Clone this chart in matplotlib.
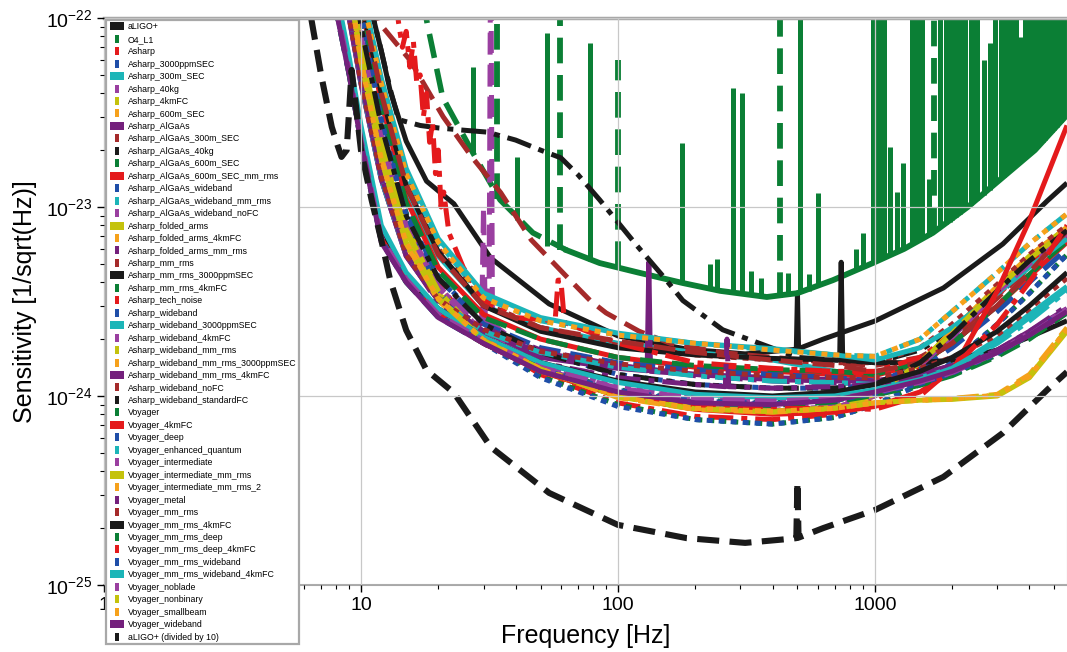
import numpy as np
import matplotlib
matplotlib.use('Agg')
import matplotlib.pyplot as plt
from matplotlib.lines import Line2D

plt.rcParams['font.family'] = ['Liberation Sans', 'DejaVu Sans']
plt.rcParams['mathtext.fontset'] = 'custom'
plt.rcParams['mathtext.rm'] = 'Liberation Sans'
plt.rcParams['mathtext.it'] = 'Liberation Sans:italic'
plt.rcParams['mathtext.bf'] = 'Liberation Sans:bold'

# all strain values below are in units of 1e-24 /sqrt(Hz)
labels = ['aLIGO+', 'O4_L1', 'Asharp', 'Asharp_3000ppmSEC', 'Asharp_300m_SEC', 'Asharp_40kg',
          'Asharp_4kmFC', 'Asharp_600m_SEC', 'Asharp_AlGaAs', 'Asharp_AlGaAs_300m_SEC',
          'Asharp_AlGaAs_40kg', 'Asharp_AlGaAs_600m_SEC', 'Asharp_AlGaAs_600m_SEC_mm_rms',
          'Asharp_AlGaAs_wideband', 'Asharp_AlGaAs_wideband_mm_rms', 'Asharp_AlGaAs_wideband_noFC',
          'Asharp_folded_arms', 'Asharp_folded_arms_4kmFC', 'Asharp_folded_arms_mm_rms',
          'Asharp_mm_rms', 'Asharp_mm_rms_3000ppmSEC', 'Asharp_mm_rms_4kmFC', 'Asharp_tech_noise',
          'Asharp_wideband', 'Asharp_wideband_3000ppmSEC', 'Asharp_wideband_4kmFC',
          'Asharp_wideband_mm_rms', 'Asharp_wideband_mm_rms_3000ppmSEC',
          'Asharp_wideband_mm_rms_4kmFC', 'Asharp_wideband_noFC', 'Asharp_wideband_standardFC',
          'Voyager', 'Voyager_4kmFC', 'Voyager_deep', 'Voyager_enhanced_quantum',
          'Voyager_intermediate', 'Voyager_intermediate_mm_rms', 'Voyager_intermediate_mm_rms_2',
          'Voyager_metal', 'Voyager_mm_rms', 'Voyager_mm_rms_4kmFC', 'Voyager_mm_rms_deep',
          'Voyager_mm_rms_deep_4kmFC', 'Voyager_mm_rms_wideband', 'Voyager_mm_rms_wideband_4kmFC',
          'Voyager_noblade', 'Voyager_nonbinary', 'Voyager_smallbeam', 'Voyager_wideband',
          'aLIGO+ (divided by 10)']

palette = ['#1a1a1a', '#0b7f35', '#e41a1c', '#1f4ea8', '#1cb5b8',
           '#9a3fa0', '#c4c20c', '#f6a11b', '#74207c', '#a52a2a']

# common frequency grid [Hz]
f_grid = [7, 8, 9, 10, 12, 15, 20, 30, 50, 100, 200, 400, 700, 1000, 1500, 2000, 3000, 4000, 5600]

# aLIGO+ (also drawn divided by 10)
aligo_f = [6.4, 7.0, 7.7, 8.1, 8.4, 8.8, 9.2, 9.6, 10, 11, 12, 13, 15, 18, 23, 32, 54, 100,
           185, 313, 480, 495, 500, 505, 630, 1000, 1850, 3150, 4700, 5600]
aligo_v = [1000, 499, 265, 213, 184, 200, 531, 326, 200, 109, 67, 41, 22.3, 13.7, 10.4, 5.37,
           3.07, 2.08, 1.77, 1.67, 1.76, 1.77, 3.51, 1.78, 2.0, 2.49, 3.73, 6.37, 10.8, 13.4]

# O4_L1 measured floor plus lines
o4_f = [15, 18.1, 20.8, 27.3, 34.8, 46.7, 63.3, 85, 120, 179, 250, 380, 500, 687, 982,
        1300, 1683, 2300, 3063, 4200, 5600]
o4_v = [400, 94, 38, 19.3, 10.9, 7.3, 5.9, 5.05, 4.5, 3.96, 3.6, 3.34, 3.5, 4.1, 5.05,
        6.0, 7.3, 10, 13.9, 20, 30.7]
# lines drawn solid
o4_line_f = [27.3, 40.5, 52.9, 77.8, 177, 228, 243, 280, 305, 330, 360, 460, 511, 555, 600,
             848, 898, 986, 1010, 1040, 1065, 1090, 1143, 1220, 1284, 1400, 1460, 1530, 1620,
             1800, 1900, 1960, 2000, 2070, 2140, 2250, 2370, 2440, 2500, 2650, 2800, 2950,
             3100, 3180, 3250, 3400, 3550, 3700, 3850, 3950, 4100, 4200, 4300, 4500, 4600,
             4700, 4900, 5000, 5100, 5300, 5500]
o4_line_lo = [19, 8.5, 6.2, 5.2, 4.0, 3.7, 3.65, 3.5, 3.45, 3.4, 3.35, 3.4, 3.5, 3.6, 3.8,
              4.6, 4.8, 5.0, 5.1, 5.2, 5.3, 5.4, 5.6, 5.8, 6.0, 6.4, 6.6, 6.8, 7.0,
              7.7, 8.1, 8.3, 8.5, 8.9, 9.2, 9.7, 10.3, 10.6, 10.9, 11.6, 12.3, 13.2,
              14.1, 14.4, 14.8, 15.7, 16.5, 17.4, 18.3, 18.8, 19.6, 20.2, 20.8, 22, 22.7,
              23.5, 25, 25.7, 26.5, 28, 30]
o4_line_hi = [55, 18.4, 83, 74, 21.8, 5.0, 5.3, 42.6, 40, 4.6, 4.2, 4.5, 400, 4.4, 11.9,
              6.0, 7.3, 400, 400, 400, 400, 400, 20.8, 12, 17.1, 400, 400, 400, 14,
              400, 400, 400, 400, 400, 400, 400, 400, 400, 400, 60, 74, 400,
              400, 400, 400, 400, 400, 79, 400, 400, 400, 400, 400, 400, 400,
              400, 400, 400, 400, 400, 400]
# lines drawn dashed
o4_dline_f = [33.8, 59.4, 100, 427, 1700]
o4_dline_lo = [11, 5.9, 4.8, 3.3, 7.3]
o4_dline_hi = [400, 400, 60, 400, 400]

asharp = [1600, 520, 190, 85, 25, 8.5, 3.9, 2.0, 1.3, 0.92, 0.78, 0.75, 0.8, 0.95, 1.4, 2.0, 3.5, 5.0, 7.2]
asharp_3000ppmSEC = [1600, 530, 195, 88, 27, 9.3, 4.3, 2.4, 1.7, 1.3, 1.15, 1.1, 1.1, 1.15, 1.5, 2.0, 3.4, 4.9, 7.0]
asharp_300m_SEC = [2500, 800, 280, 120, 38, 12, 5.5, 3.0, 2.3, 1.9, 1.7, 1.55, 1.35, 1.15, 1.2, 1.4, 2.0, 2.7, 3.8]
asharp_40kg_f = [7, 8, 9, 10, 12, 15, 20, 28, 29.5, 30, 30.5, 31.5, 32, 32.5, 34, 50, 100,
                 200, 400, 700, 1000, 1500, 2000, 3000, 4000, 5600]
asharp_40kg = [1500, 500, 180, 80, 24, 8.0, 3.8, 2.5, 2.45, 10, 2.4, 2.4, 400, 2.35, 2.3, 1.5,
               1.08, 0.9, 0.86, 0.9, 1.05, 1.5, 2.1, 3.6, 5.1, 7.4]
asharp_4kmFC = [1400, 480, 175, 78, 23, 7.8, 3.7, 2.05, 1.38, 1.0, 0.85, 0.82, 0.86, 1.02, 1.5, 2.15, 3.7, 5.3, 7.6]
asharp_600m_SEC = [1420, 485, 177, 79, 23.5, 7.9, 3.72, 2.06, 1.39, 1.01, 0.855, 0.825, 0.865, 1.02, 1.5, 2.15, 3.7, 5.3, 7.6]
asharp_algaas_f = [7, 8, 9, 10, 12, 15, 20, 30, 50, 100, 130, 132, 134, 200, 400, 700, 1000,
                   1500, 2000, 3000, 4000, 5600]
asharp_algaas = [800, 250, 100, 45, 14, 5.5, 3.2, 2.2, 1.6, 1.4, 1.36, 5.1, 1.35, 1.3, 1.25,
                 1.22, 1.2, 1.3, 1.45, 1.75, 2.2, 2.9]
asharp_algaas_300m_f = [10, 11.8, 15.5, 20.9, 27, 35, 46, 63, 78, 90, 121, 160, 250, 400,
                        700, 1000, 1500, 2000, 3000, 4000, 5600]
asharp_algaas_300m = [250, 94, 60, 30, 18.4, 11.9, 6.7, 4.3, 3.2, 2.75, 2.2, 1.9, 1.7, 1.6,
                      1.5, 1.45, 1.6, 2.0, 3.3, 4.8, 7.0]
asharp_algaas_40kg_f = [9, 10, 11, 12, 13, 14, 17, 20, 25, 31, 40, 50, 60, 70, 85, 118, 150,
                        179, 256, 500, 1000, 1500, 2000, 3000, 4000, 5600]
asharp_algaas_40kg = [400, 200, 109, 67, 42, 29, 27, 26.2, 25.5, 24.9, 22.6, 20, 18.2, 14.8,
                      10.9, 6.3, 4.3, 3.2, 2.24, 1.6, 1.5, 1.75, 2.2, 3.6, 5.2, 7.5]
asharp_algaas_600m_SEC = [2000, 700, 250, 110, 30, 9.2, 3.7, 1.95, 1.27, 0.9, 0.75, 0.71, 0.77, 0.9, 1.15, 1.5, 2.4, 3.5, 5.6]
asharp_algaas_600m_SEC_mm_rms = [2400, 780, 275, 120, 36, 11, 4.8, 2.7, 2.0, 1.6, 1.42, 1.35, 1.3, 1.28, 1.5, 1.9, 3.0, 4.3, 6.5]
asharp_algaas_wideband = [2000, 700, 250, 110, 31, 9.8, 4.2, 2.4, 1.8, 1.5, 1.38, 1.3, 1.25, 1.2, 1.4, 1.8, 2.8, 4.0, 6.0]
asharp_algaas_wideband_mm_rms = [3000, 900, 300, 140, 45, 15, 6.5, 3.3, 2.5, 2.1, 1.9, 1.75, 1.65, 1.62, 2.0, 2.8, 4.5, 6.4, 9.2]
asharp_algaas_wideband_noFC = [1500, 500, 180, 80, 24, 8.0, 3.8, 2.15, 1.45, 1.05, 0.88, 0.84, 0.88, 1.03, 1.5, 2.1, 3.6, 5.1, 7.4]
asharp_folded_arms = [1300, 450, 165, 72, 21, 7.4, 3.5, 1.95, 1.35, 1.0, 0.86, 0.82, 0.85, 1.0, 1.5, 2.2, 3.8, 5.5, 7.8]
asharp_folded_arms_4kmFC = [1320, 455, 166, 73, 21.5, 7.5, 3.52, 1.96, 1.36, 1.0, 0.865, 0.83, 0.86, 1.0, 1.5, 2.2, 3.8, 5.5, 7.8]
asharp_folded_arms_mm_rms = [900, 280, 110, 48, 15, 5.8, 3.3, 2.3, 1.75, 1.45, 1.28, 1.2, 1.17, 1.17, 1.28, 1.42, 1.7, 2.1, 2.8]
asharp_mm_rms = [2800, 850, 290, 130, 42, 14, 6.0, 3.1, 2.3, 1.85, 1.65, 1.55, 1.5, 1.5, 1.8, 2.4, 3.9, 5.6, 8.0]
asharp_mm_rms_3000_f = [7, 8, 9, 10, 12, 15, 20, 30, 50, 100, 200, 400, 700, 730, 740, 750,
                        1000, 1500, 2000, 3000, 4000, 5600]
asharp_mm_rms_3000ppmSEC = [2600, 800, 280, 125, 40, 13, 5.8, 3.0, 2.2, 1.8, 1.65, 1.58, 1.55,
                            1.55, 5.1, 1.55, 1.5, 1.5, 1.55, 1.75, 2.05, 2.5]
asharp_mm_rms_4kmFC = [2300, 760, 270, 118, 35, 10.5, 4.6, 2.6, 2.0, 1.6, 1.45, 1.38, 1.35, 1.3, 1.5, 1.9, 3.0, 4.4, 6.6]
asharp_tech_noise_f = [10, 12, 13.5, 14, 14.5, 15, 15.5, 16, 16.5, 17, 17.5, 18, 18.5, 19,
                       19.5, 20, 20.5, 21, 22, 25, 30, 40, 57, 58.5, 60, 62, 100, 200, 400,
                       700, 1000, 1500, 2000, 3000, 4000, 5600]
asharp_tech_noise = [2000, 400, 150, 95, 70, 85, 55, 75, 45, 50, 30, 40, 22, 28, 15, 20, 10,
                     12, 7.3, 4.8, 3.2, 2.6, 2.5, 4.1, 4.1, 2.45, 1.9, 1.5, 1.4, 1.35, 1.35,
                     1.6, 2.1, 3.4, 5.0, 7.3]
asharp_wideband = [1950, 690, 245, 108, 29, 9.0, 3.6, 1.9, 1.25, 0.88, 0.75, 0.71, 0.77, 0.9, 1.15, 1.5, 2.4, 3.5, 5.6]
asharp_wideband_3000ppmSEC = [3200, 950, 320, 150, 48, 16, 6.8, 3.5, 2.6, 2.15, 1.9, 1.78, 1.65, 1.55, 1.8, 2.3, 3.5, 4.8, 6.8]
asharp_wideband_4kmFC = [1450, 490, 178, 79, 23, 7.9, 3.75, 2.1, 1.42, 1.02, 0.87, 0.83, 0.87, 1.0, 1.45, 2.05, 3.55, 5.0, 7.2]
asharp_wideband_mm_rms = [1350, 470, 170, 75, 22, 7.6, 3.6, 2.0, 1.36, 1.0, 0.86, 0.83, 0.87, 1.02, 1.5, 2.15, 3.7, 5.3, 7.6]
asharp_wideband_mm_rms_3000ppmSEC = [3000, 900, 300, 140, 45, 15, 6.5, 3.3, 2.5, 2.1, 1.9, 1.75, 1.65, 1.62, 2.0, 2.8, 4.5, 6.4, 9.2]
asharp_wideband_mm_rms_4kmFC = [800, 250, 100, 45, 14, 5.5, 3.2, 2.2, 1.7, 1.45, 1.3, 1.22, 1.2, 1.2, 1.3, 1.45, 1.7, 2.1, 2.75]
asharp_wideband_noFC = [2600, 820, 285, 128, 40, 13, 5.6, 3.0, 2.3, 1.95, 1.7, 1.55, 1.45, 1.35, 1.5, 1.9, 3.0, 4.5, 7.5]
asharp_wideband_standardFC = [1700, 560, 200, 90, 27, 9.0, 4.2, 2.4, 1.7, 1.3, 1.15, 1.1, 1.1, 1.15, 1.5, 2.1, 3.6, 5.2, 7.5]
voyager = [420, 115, 52, 23, 6.8, 4.1, 2.7, 1.95, 1.4, 1.08, 0.95, 0.92, 0.95, 1.02, 1.15, 1.3, 1.65, 2.1, 2.9]
voyager_4kmFC = [450, 120, 55, 24, 7.0, 4.2, 2.7, 1.9, 1.35, 1.0, 0.85, 0.8, 0.82, 0.88, 1.05, 1.35, 3.6, 8.5, 27]
voyager_deep = [400, 110, 50, 22, 6.6, 4.0, 2.6, 1.9, 1.37, 1.06, 0.93, 0.9, 0.94, 1.02, 1.15, 1.3, 1.65, 2.05, 2.8]
voyager_enhanced_quantum = [850, 260, 105, 46, 14, 5.6, 3.2, 2.2, 1.7, 1.42, 1.28, 1.2, 1.18, 1.15, 1.25, 1.4, 1.9, 2.5, 3.6]
voyager_intermediate = [450, 120, 55, 24, 7.0, 4.2, 2.75, 2.0, 1.45, 1.12, 0.98, 0.95, 0.98, 1.05, 1.2, 1.35, 1.7, 2.15, 2.9]
voyager_intermediate_mm_rms = [1200, 400, 150, 60, 18, 6.5, 3.3, 2.0, 1.4, 1.0, 0.86, 0.83, 0.86, 0.92, 0.95, 0.96, 1.0, 1.25, 2.2]
voyager_intermediate_mm_rms_2 = [1150, 390, 145, 58, 17.5, 6.3, 3.2, 1.95, 1.38, 0.98, 0.85, 0.82, 0.86, 0.92, 0.95, 0.97, 1.02, 1.3, 2.3]
voyager_metal_f = [7, 8, 9, 10, 12, 15, 20, 30, 50, 100, 200, 262, 266, 270, 400, 700, 1000,
                   1500, 2000, 3000, 4000, 5600]
voyager_metal = [850, 265, 105, 47, 14.5, 5.6, 3.1, 2.0, 1.5, 1.25, 1.15, 1.12, 2.0, 1.12, 1.1,
                 1.12, 1.15, 1.25, 1.4, 1.75, 2.2, 3.0]
voyager_mm_rms = [820, 255, 102, 46, 14.5, 5.6, 3.25, 2.25, 1.72, 1.48, 1.35, 1.28, 1.25, 1.25, 1.4, 1.6, 2.1, 2.9, 4.2]
voyager_mm_rms_4kmFC = [420, 120, 55, 24, 7.2, 4.3, 2.9, 2.05, 1.5, 1.2, 1.05, 1.0, 1.05, 1.15, 1.35, 1.6, 2.2, 3.0, 4.5]
voyager_mm_rms_deep = [400, 110, 50, 22, 6.6, 4.0, 2.62, 1.9, 1.36, 1.05, 0.92, 0.89, 0.93, 1.01, 1.14, 1.28, 1.62, 2.0, 2.75]
voyager_mm_rms_deep_4kmFC = [430, 118, 53, 23, 6.8, 4.1, 2.65, 1.9, 1.36, 1.04, 0.9, 0.86, 0.86, 0.85, 1.0, 1.4, 2.4, 4.0, 8.0]
voyager_mm_rms_wideband = [410, 112, 51, 22.5, 6.7, 4.05, 2.65, 1.92, 1.38, 1.07, 0.94, 0.91, 0.95, 1.03, 1.16, 1.32, 1.68, 2.1, 2.85]
voyager_mm_rms_wideband_4kmFC = [500, 140, 62, 27, 8.0, 4.5, 2.9, 2.05, 1.5, 1.18, 1.02, 0.98, 1.0, 1.08, 1.22, 1.4, 1.95, 2.6, 3.7]
voyager_noblade = [430, 118, 53, 23, 6.9, 4.15, 2.7, 1.97, 1.42, 1.1, 0.97, 0.94, 0.97, 1.04, 1.18, 1.33, 1.7, 2.1, 2.85]
voyager_nonbinary = [1180, 395, 148, 59, 17.8, 6.4, 3.25, 1.97, 1.39, 0.99, 0.855, 0.825, 0.86, 0.92, 0.95, 0.965, 1.01, 1.27, 2.25]
voyager_smallbeam = [1190, 398, 149, 59.5, 17.9, 6.45, 3.27, 1.98, 1.39, 0.995, 0.86, 0.83, 0.86, 0.92, 0.95, 0.965, 1.01, 1.27, 2.25]
voyager_wideband = [400, 110, 50, 22, 6.5, 4.0, 2.6, 1.9, 1.35, 1.05, 0.92, 0.9, 0.95, 1.05, 1.2, 1.35, 1.7, 2.1, 2.8]

curves = [
    (aligo_f, aligo_v),
    (o4_f, o4_v),
    (f_grid, asharp),
    (f_grid, asharp_3000ppmSEC),
    (f_grid, asharp_300m_SEC),
    (asharp_40kg_f, asharp_40kg),
    (f_grid, asharp_4kmFC),
    (f_grid, asharp_600m_SEC),
    (asharp_algaas_f, asharp_algaas),
    (asharp_algaas_300m_f, asharp_algaas_300m),
    (asharp_algaas_40kg_f, asharp_algaas_40kg),
    (f_grid, asharp_algaas_600m_SEC),
    (f_grid, asharp_algaas_600m_SEC_mm_rms),
    (f_grid, asharp_algaas_wideband),
    (f_grid, asharp_algaas_wideband_mm_rms),
    (f_grid, asharp_algaas_wideband_noFC),
    (f_grid, asharp_folded_arms),
    (f_grid, asharp_folded_arms_4kmFC),
    (f_grid, asharp_folded_arms_mm_rms),
    (f_grid, asharp_mm_rms),
    (asharp_mm_rms_3000_f, asharp_mm_rms_3000ppmSEC),
    (f_grid, asharp_mm_rms_4kmFC),
    (asharp_tech_noise_f, asharp_tech_noise),
    (f_grid, asharp_wideband),
    (f_grid, asharp_wideband_3000ppmSEC),
    (f_grid, asharp_wideband_4kmFC),
    (f_grid, asharp_wideband_mm_rms),
    (f_grid, asharp_wideband_mm_rms_3000ppmSEC),
    (f_grid, asharp_wideband_mm_rms_4kmFC),
    (f_grid, asharp_wideband_noFC),
    (f_grid, asharp_wideband_standardFC),
    (f_grid, voyager),
    (f_grid, voyager_4kmFC),
    (f_grid, voyager_deep),
    (f_grid, voyager_enhanced_quantum),
    (f_grid, voyager_intermediate),
    (f_grid, voyager_intermediate_mm_rms),
    (f_grid, voyager_intermediate_mm_rms_2),
    (voyager_metal_f, voyager_metal),
    (f_grid, voyager_mm_rms),
    (f_grid, voyager_mm_rms_4kmFC),
    (f_grid, voyager_mm_rms_deep),
    (f_grid, voyager_mm_rms_deep_4kmFC),
    (f_grid, voyager_mm_rms_wideband),
    (f_grid, voyager_mm_rms_wideband_4kmFC),
    (f_grid, voyager_noblade),
    (f_grid, voyager_nonbinary),
    (f_grid, voyager_smallbeam),
    (f_grid, voyager_wideband),
]

# line styles cycle every 4 curves, colours every 10
styles = ['-', (0, (4.4, 2.0)), (0, (5.0, 1.6, 1.2, 1.6)), (0, (1.2, 1.2))]
scale = 1e-24
lw = 3.6

fig = plt.figure(figsize=(10.67, 6.52), dpi=100)
ax = fig.add_axes([0.0975, 0.1028, 0.9025, 0.8696])

for i, (f, v) in enumerate(curves):
    if i == 1:
        # measured spectrum: dashed at low frequency, dense (solid looking) above
        v = np.array(v) * scale
        ax.plot(f[:7], v[:7], color=palette[1], ls=styles[1], lw=4.0, zorder=2)
        ax.plot(f[6:], v[6:], color=palette[1], ls='-', lw=4.2, zorder=2)
        ax.vlines(o4_line_f, np.array(o4_line_lo) * scale, np.array(o4_line_hi) * scale,
                  colors=palette[1], linestyles='solid', linewidth=lw, zorder=2)
        ax.vlines(o4_dline_f, np.array(o4_dline_lo) * scale, np.array(o4_dline_hi) * scale,
                  colors=palette[1], linestyles=[styles[1]], linewidth=lw + 0.6, zorder=2)
        continue
    ax.plot(f, np.array(v) * scale, color=palette[i % 10], ls=styles[i % 4], lw=lw,
            solid_capstyle='butt', zorder=2)

# aLIGO+ divided by 10
ax.plot(aligo_f, np.array(aligo_v) * scale / 10, color=palette[0], ls=(0, (3.6, 1.7)),
        lw=4.4, zorder=2)

ax.set_xscale('log')
ax.set_yscale('log')
ax.set_xlim(1, 5600)
ax.set_ylim(1e-25, 1e-22)
ax.set_xticks([1, 10, 100, 1000])
ax.set_xticklabels(['1', '10', '100', '1000'])
ax.set_yticks([1e-25, 1e-24, 1e-23, 1e-22])
ax.set_yticklabels(['$10^{-25}$', '$10^{-24}$', '$10^{-23}$', '$10^{-22}$'])
ax.tick_params(axis='both', which='major', labelsize=14, direction='out', length=5, width=1)
ax.tick_params(axis='both', which='minor', direction='out', length=3, width=0.8)
ax.grid(True, which='major', color='#c8c8c8', lw=0.9)
ax.set_axisbelow(False)

for side in ['top', 'right', 'bottom']:
    ax.spines[side].set_color('#a8a8a8')
ax.spines['left'].set_color('#555555')
ax.spines['top'].set_linewidth(2.5)
ax.spines['bottom'].set_linewidth(1.5)

ax.set_xlabel('Frequency [Hz]', fontsize=18, labelpad=7)
ax.set_ylabel('Sensitivity [1/sqrt(Hz)]', fontsize=18, labelpad=6)

# legend with rectangular swatches
wide = [(-1, -0.6), (1, -0.6), (1, 0.6), (-1, 0.6), (-1, -0.6)]
narrow = [(-0.19, -0.5), (0.19, -0.5), (0.19, 0.5), (-0.19, 0.5), (-0.19, -0.5)]
handles = []
for i, lab in enumerate(labels):
    col = palette[0] if i == len(labels) - 1 else palette[i % 10]
    if i % 4 == 0:
        h = Line2D([], [], ls='none', marker=wide, markersize=10.5, color=col,
                   markeredgewidth=0)
    else:
        h = Line2D([], [], ls='none', marker=narrow, markersize=5.8, color=col,
                   markeredgewidth=0)
    handles.append(h)

leg = ax.legend(handles, labels, loc='upper left', bbox_to_anchor=(0.002, 0.997),
                fontsize=6.3, labelspacing=0.395, handlelength=1.9, handletextpad=0.3,
                borderpad=0.3, borderaxespad=0, numpoints=1, fancybox=False,
                framealpha=1, edgecolor='#a8a8a8')
leg.get_frame().set_linewidth(1.6)

fig.savefig('out.png', dpi=100)
